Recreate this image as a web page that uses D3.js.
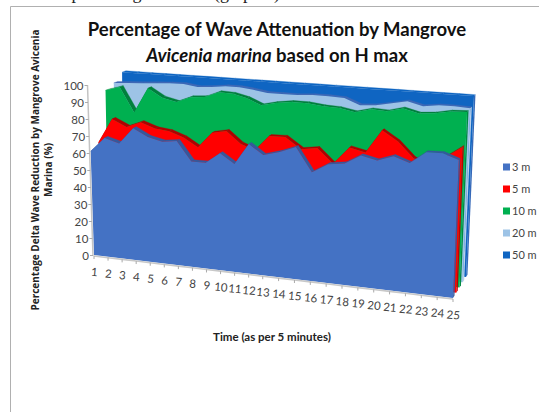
<!DOCTYPE html>
<html><head><meta charset="utf-8">
<script src="https://d3js.org/d3.v7.min.js"></script>
<style>html,body{margin:0;padding:0;background:#fff;overflow:hidden}svg{display:block}text{font-family:Lato,sans-serif}</style>
</head><body><svg id="c" width="539" height="412"></svg>
<script>
const categories = d3.range(1,26);
const yTicks = [0,10,20,30,40,50,60,70,80,90,100];
const seriesNames = ["3 m","5 m","10 m","20 m","50 m"];
const s3m  = [61,69.5,67,76.5,72,70,71,60,60,66,60.6,72.5,67,69.4,72.8,59.7,64.8,66,71,69,72,69,75.4,75.6,72.6];
const s5m  = [64,78.6,74.6,78,75,74,71,66,75,76.6,70,67,75.6,75.8,69.7,71,63,72.7,70.7,83.4,78,69.6,66,71.6,77.6];
const s10m = [93,95.5,81,96,91,89,92.4,93,96.4,96,94,90.6,92.4,93.6,93.5,92.4,92,90.3,92.5,92,94.2,92,92.7,94.3,94.6];
const s20m = [95.5,96,96.4,97,97.5,97.6,96.4,97,98,98,97,95.7,95.7,95.7,96.3,96.3,95.8,92.4,93,94.7,96.4,94.3,95.4,95.4,95];
const s50m = [100,100,100,100,100,100,100,100,100,100,100,100,100,100,100,100,100,100,100,100,100,100,100,100,100];
const allSeries = [s3m,s5m,s10m,s20m,s50m];
const colors = ["#4472c4","#ff0000","#00b050","#9dc3e6","#0f65c2"];
const topColors = ["#35589c","#b00000","#00803c","#3f68b5","#0f65c2"];
const sideColors = ["#35589c","#c00000","#008a42","#b8d0ea","#3568b8"];

const svg = d3.select("#c");
const u = d3.scaleLinear().domain([1,13,25]).range([0,0.47,1]);
const v = d3.scaleLinear().domain([0,100]).range([0,1]);
const lerp = d3.interpolateNumber;
function proj(t,val,d){
  const a=u(t), b=v(val);
  const blx=94+7.25*d, bly=255-4.25*d, brx=453+3.25*d, bry=298-5.25*d;
  const tlx=88.5+8.4*d, tly=85-3.2*d, trx=461+3.25*d, try_=108-3*d;
  const bx=lerp(blx,brx)(a), by=lerp(bly,bry)(a), tx=lerp(tlx,trx)(a), ty=lerp(tly,try_)(a);
  return [lerp(bx,tx)(b), lerp(by,ty)(b)];
}
const line = d3.line();
const th = 0.45;
// frame + clipped text of the surrounding page
svg.append("path").attr("d","M10.5,412V6.5H539").attr("fill","none").attr("stroke","#b0b0b0").attr("stroke-width",1);
svg.append("text").attr("x",45).attr("y",-1).attr("font-size",18).style("font-family","Liberation Serif")
  .attr("fill","#222").text("the percentage of mass (graphic).");

// series, back to front
d3.range(4,-1,-1).forEach(d=>{
  const vals = allSeries[d];
  const g = svg.append("g");
  // top faces
  g.selectAll("path.top").data(d3.range(24)).join("path").attr("class","top")
    .attr("d",i=>line([proj(i+1,vals[i],d),proj(i+2,vals[i+1],d),proj(i+2,vals[i+1],d+th),proj(i+1,vals[i],d+th)])+"Z")
    .attr("fill",topColors[d]).attr("stroke",topColors[d]).attr("stroke-width",0.3);
  // right side face
  g.append("path").attr("d",line([proj(25,0,d),proj(25,vals[24],d),proj(25,vals[24],d+th),proj(25,0,d+th)])+"Z")
    .attr("fill",sideColors[d]);
  // front face
  const pts=[proj(1,0,d)].concat(categories.map((t,i)=>proj(t,vals[i],d))).concat([proj(25,0,d)]);
  g.append("path").attr("d",line(pts)+"Z").attr("fill",colors[d]);
});

// value axis
const axis = svg.append("g");
axis.append("line").attr("x1",proj(1,0,0)[0]-1).attr("y1",256).attr("x2",proj(1,100,0)[0]-1).attr("y2",85)
  .attr("stroke","#c4c4c4").attr("stroke-width",1.5);
yTicks.forEach(y=>{
  const p=proj(1,y,0);
  axis.append("line").attr("x1",p[0]-4).attr("x2",p[0]-1).attr("y1",p[1]+0.5).attr("y2",p[1]+0.5).attr("stroke","#aaa");
  axis.append("text").attr("x",p[0]-5).attr("y",p[1]+4.5).attr("text-anchor","end").attr("font-size",11.5).attr("fill","#444").text(y);
});
// time axis
axis.append("path").attr("d",line(categories.map(t=>{const p=proj(t,0,0);return [p[0],p[1]+1]})))
  .attr("fill","none").attr("stroke","#c8c8c8").attr("stroke-width",1.6);
categories.forEach(t=>{
  const p=proj(t,0,0);
  axis.append("line").attr("x1",p[0]).attr("x2",p[0]).attr("y1",p[1]+1).attr("y2",p[1]+4).attr("stroke","#aaa");
  axis.append("text").attr("transform",`translate(${p[0]},${p[1]+21}) rotate(5)`).attr("text-anchor","middle")
    .attr("font-size",11.5).attr("fill","#444").text(t);
});

// titles
const title = svg.append("g").attr("font-weight",700).attr("fill","#111").attr("text-anchor","middle");
title.append("text").attr("x",277).attr("y",36).attr("font-size",18.5).text("Percentage of Wave Attenuation by Mangrove");
const t2 = title.append("text").attr("x",277).attr("y",62).attr("font-size",18.5);
t2.append("tspan").attr("font-style","italic").text("Avicenia marina");
t2.append("tspan").text(" based on H max");
svg.append("text").attr("transform","translate(39,170) rotate(-90)").attr("text-anchor","middle")
  .attr("font-size",10).attr("font-weight",700).style("font-family","Open Sans").attr("fill","#222")
  .text("Percentage Delta Wave Reduction by Mangrove Avicenia");
svg.append("text").attr("transform","translate(52,170) rotate(-90)").attr("text-anchor","middle")
  .attr("font-size",10).attr("font-weight",700).style("font-family","Open Sans").attr("fill","#222")
  .text("Marina (%)");
svg.append("text").attr("x",272).attr("y",341).attr("text-anchor","middle").attr("font-size",11.5).attr("font-weight",700).attr("fill","#222")
  .text("Time (as per 5 minutes)");

// legend
const legY = d3.scalePoint().domain(seriesNames).range([167,255]);
const leg = svg.append("g").selectAll("g").data(seriesNames).join("g")
  .attr("transform",d=>`translate(503,${legY(d)})`);
leg.append("rect").attr("x",0).attr("y",-3.5).attr("width",7).attr("height",7)
  .attr("fill",(d,i)=>colors[i]);
leg.append("text").attr("x",9).attr("y",4).attr("font-size",11).attr("fill","#444").text(d=>d);
</script></body></html>
